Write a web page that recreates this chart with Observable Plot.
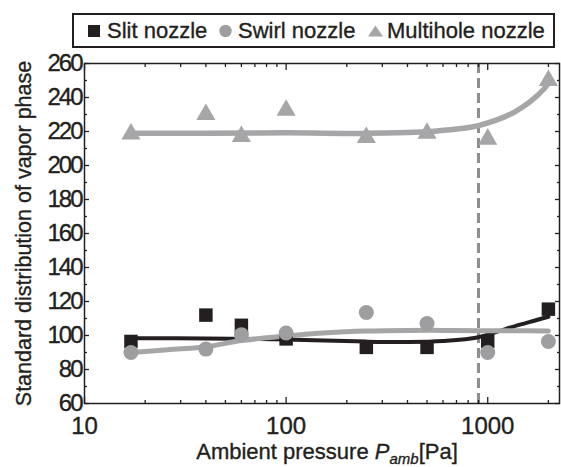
<!DOCTYPE html>
<html>
<head>
<meta charset="utf-8">
<script src="https://cdn.jsdelivr.net/npm/d3@7"></script>
<script src="https://cdn.jsdelivr.net/npm/@observablehq/plot@0.6"></script>
<style>
  body { margin: 0; background: #fff; }
  #wrap { position: relative; width: 561px; height: 467px; font-family: "Liberation Sans", Arial, sans-serif; color: #231f20; }
  #legend { position: absolute; left: 72px; top: 13px; width: 483px; height: 35px; box-sizing: border-box; border: 2px solid #231f20; background: #fff; font-size: 22px; -webkit-text-stroke: 0.35px #231f20; }
  #legend .it { position: absolute; top: 50%; transform: translateY(-50%); line-height: 1; white-space: nowrap; }
  #legend svg { display: block; }
  #xlabel { position: absolute; left: 12px; width: 630px; top: 439px; text-align: center; font-size: 22px; white-space: nowrap; -webkit-text-stroke: 0.35px #231f20; }
  #xlabel .sub { font-size: 15px; position: relative; top: 5px; font-style: italic; }
  #chart svg text { stroke: #231f20; stroke-width: 0.35px; }
  #chart svg .ylab text { letter-spacing: -2px; }
</style>
</head>
<body>
<div id="wrap">
  <div id="chart"></div>
  <div id="legend">
    <span class="it" style="left:14px"><svg width="12" height="12"><rect width="12" height="12" fill="#231f20"/></svg></span>
    <span class="it" style="left:33px">Slit nozzle</span>
    <span class="it" style="left:145px"><svg width="13" height="13"><circle cx="6.5" cy="6.5" r="6.2" fill="#9e9ea0"/></svg></span>
    <span class="it" style="left:164px">Swirl nozzle</span>
    <span class="it" style="left:294px"><svg width="15" height="12"><polygon points="7.5,0.5 15,11.5 0,11.5" fill="#a6a6a8"/></svg></span>
    <span class="it" style="left:313px">Multihole nozzle</span>
  </div>
  <div id="xlabel">Ambient pressure <i>P</i><span class="sub">amb</span>[Pa]</div>
</div>
<script>
// ---- data ----
const pressures = [17, 40, 60, 100, 250, 500, 1000, 2000];
const slitValues = [96.5, 112, 106, 98, 93, 93, 96.5, 115.5];
const swirlValues = [90, 92, 100.5, 101.5, 113.5, 107, 90, 96.5];
const multiholeValues = [218.5, 230, 217, 232.5, 216.5, 219, 215.5, 250];

// trend curves
const slitFitX = [17, 40, 100, 250, 400, 600, 900, 1300, 1700, 2000];
const slitFitY = [98.4, 98.3, 97.6, 96.4, 96.2, 96.8, 99, 104.8, 108.7, 111];
const swirlFitX = [17, 25, 40, 60, 100, 160, 250, 400, 600, 900, 1300, 2000];
const swirlFitY = [90, 91.5, 93.4, 97, 99.7, 101.6, 102.6, 103, 103, 102.8, 102.8, 102.6];
const multiFitX = [17, 40, 100, 250, 400, 520, 650, 760, 900, 1110, 1350, 1630, 1900, 2000];
const multiFitY = [219, 219, 219.2, 218.9, 219.4, 220, 221, 221.9, 223.5, 226.8, 231.3, 237.7, 245, 248.5];

const thresholdPressure = [900];
const xMajorTicks = [10, 100, 1000];
const xMinorTicks = [20, 30, 40, 50, 60, 70, 80, 90, 200, 300, 400, 500, 600, 700, 800, 900, 2000];
const yMajorTicks = [60, 80, 100, 120, 140, 160, 180, 200, 220, 240, 260];
const yMinorTicks = [70, 90, 110, 130, 150, 170, 190, 210, 230, 250];
const yTitle = "Standard distribution of vapor phase";

const BLACK = "#231f20", GRAY = "#9e9ea0", GRAYLINE = "#a6a6a8", DASH = "#8e8e90";

const pts = (xs, ys) => xs.map((x, i) => ({x, y: ys[i]}));
const slit = pts(pressures, slitValues);
const swirl = pts(pressures, swirlValues);
const multi = pts(pressures, multiholeValues);
const slitFit = pts(slitFitX, slitFitY);
const swirlFit = pts(swirlFitX, swirlFitY);
const multiFit = pts(multiFitX, multiFitY);

const noText = () => "";

const plot = Plot.plot({
  width: 561,
  height: 467,
  marginTop: 63,
  marginBottom: 64,
  marginLeft: 84,
  marginRight: 2,
  style: {fontFamily: '"Liberation Sans", Arial, sans-serif', color: BLACK, background: "transparent"},
  x: {type: "log", domain: [10, 2270]},
  y: {domain: [60, 260]},
  marks: [
    Plot.ruleX(thresholdPressure, {stroke: DASH, strokeWidth: 3, strokeDasharray: "10,5"}),
    // labeled axes
    Plot.axisX(xMajorTicks, {tickSize: 0, tickPadding: 13, fontSize: 24, tickFormat: d => String(d), label: null, fill: BLACK}),
    Plot.axisY(yMajorTicks, {tickSize: 0, tickPadding: 3, fontSize: 24, tickFormat: d => String(d), label: null, fill: BLACK, className: "ylab"}),
    Plot.axisY({label: yTitle, labelAnchor: "center", labelArrow: "none", labelOffset: 69, ticks: [], tickSize: 0, fontSize: 21.5, fill: BLACK}),
    // inward ticks
    Plot.axisX(xMajorTicks, {tickSize: -6, tickFormat: noText, label: null, stroke: BLACK, strokeWidth: 1.3}),
    Plot.axisX(xMinorTicks, {tickSize: -3, tickFormat: noText, label: null, stroke: BLACK, strokeWidth: 1.3}),
    Plot.axisX(xMajorTicks, {anchor: "top", tickSize: -6, tickFormat: noText, label: null, stroke: BLACK, strokeWidth: 1.3}),
    Plot.axisX(xMinorTicks, {anchor: "top", tickSize: -3, tickFormat: noText, label: null, stroke: BLACK, strokeWidth: 1.3}),
    Plot.axisY(yMajorTicks, {tickSize: -5, tickFormat: noText, label: null, stroke: BLACK, strokeWidth: 1.3}),
    Plot.axisY(yMinorTicks, {tickSize: -3, tickFormat: noText, label: null, stroke: BLACK, strokeWidth: 1.3}),
    Plot.axisY(yMajorTicks, {anchor: "right", tickSize: -5, tickFormat: noText, label: null, stroke: BLACK, strokeWidth: 1.3}),
    Plot.axisY(yMinorTicks, {anchor: "right", tickSize: -3, tickFormat: noText, label: null, stroke: BLACK, strokeWidth: 1.3}),
    Plot.frame({stroke: BLACK, strokeWidth: 1.5}),
    // trend lines
    Plot.line(slitFit, {x: "x", y: "y", stroke: BLACK, strokeWidth: 4, curve: "catmull-rom"}),
    Plot.line(swirlFit, {x: "x", y: "y", stroke: GRAYLINE, strokeWidth: 5, curve: "catmull-rom"}),
    Plot.line(multiFit, {x: "x", y: "y", stroke: GRAYLINE, strokeWidth: 5.5, curve: "catmull-rom"}),
    // markers
    Plot.dot(slit, {x: "x", y: "y", symbol: "square", r: 7.6, fill: BLACK, stroke: "none"}),
    Plot.dot(swirl, {x: "x", y: "y", symbol: "circle", r: 7.5, fill: GRAY, stroke: "none"}),
    Plot.dot(multi, {x: "x", y: "y", symbol: "triangle", r: 7.1, fill: GRAYLINE, stroke: "none"})
  ]
});
document.getElementById("chart").appendChild(plot);
</script>
</body>
</html>
